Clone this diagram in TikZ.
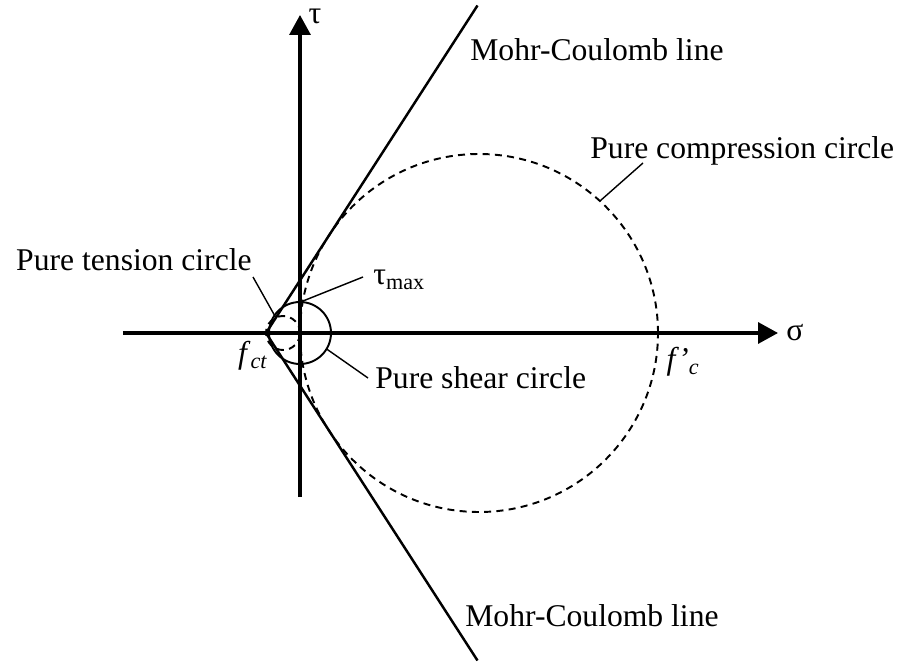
\documentclass[tikz,border=0pt]{standalone}
\usepackage{fontspec}
\setmainfont{Liberation Serif}
\usetikzlibrary{arrows.meta,calc}

\begin{document}
\begin{tikzpicture}[
  lbl/.style={font=\fontsize{18}{20}\selectfont, inner sep=0pt},
  axis/.style={line width=1.9pt, -{Triangle[length=0.4cm,width=0.42cm]}},
  mcline/.style={line width=1.4pt},
  circ/.style={line width=1.1pt},
  dcirc/.style={line width=1.1pt, dash pattern=on 4pt off 3pt},
  leader/.style={line width=0.8pt}]
  \useasboundingbox (-6,-6.56) rectangle (12.14,6.66);
  % Axes
  \coordinate (O) at (0,0);
  \coordinate (xl) at (-3.54,0);
  \coordinate (xr) at (9.56,0);
  \coordinate (yb) at (0,-3.28);
  \coordinate (yt) at (0,6.36);
  \draw[axis] (xl) -- (xr);
  \draw[axis] (yb) -- (yt);
  \node[lbl] (sig) at (9.9,0) {σ};
  \node[lbl] (tau) at (0.3,6.34) {τ};
  % Mohr circles
  \coordinate (cc) at (3.58,0);
  \coordinate (tc) at (-0.34,0);
  \draw[circ] (O) circle (0.62);
  \draw[dcirc] (tc) circle (0.34);
  \draw[dcirc] (cc) circle (3.58);
  % Mohr-Coulomb envelope
  \coordinate (fct) at (-0.68,0);
  \coordinate (mct) at (3.55,6.55);
  \coordinate (mcb) at (3.55,-6.55);
  \draw[mcline] (mct) -- (fct) -- (mcb);
  \node[lbl, anchor=west] (mctl) at (3.4,5.66) {Mohr-Coulomb line};
  \node[lbl, anchor=west] (mcbl) at (3.3,-5.66) {Mohr-Coulomb line};
  % Strength values
  \node[lbl] (fctl) at (-0.94,-0.46) {\textit{f}\textsubscript{\textit{ct}}};
  \node[lbl] (fcl) at (7.66,-0.58) {\textit{f'}\textsubscript{\textit{c}}};
  % Circle labels and leaders
  \node[lbl, anchor=west] (pcc) at (5.8,3.64) {Pure compression circle};
  \coordinate (pcs) at (6.86,3.4);
  \coordinate (pce) at ($(cc)+(47.5:3.58)$);
  \draw[leader] (pcs) -- (pce);
  \node[lbl, anchor=east] (ptc) at (-0.96,1.46) {Pure tension circle};
  \coordinate (pts) at (-0.94,1.12);
  \coordinate (pte) at ($(tc)+(115:0.34)$);
  \draw[leader] (pts) -- (pte);
  \node[lbl, anchor=west] (tmax) at (1.46,1.06) {τ\textsubscript{max}};
  \coordinate (tms) at (1.26,1.12);
  \coordinate (tme) at (0.06,0.64);
  \draw[leader] (tms) -- (tme);
  \node[lbl, anchor=west] (psc) at (1.5,-0.9) {Pure shear circle};
  \coordinate (pss) at (1.36,-0.9);
  \coordinate (pse) at ($(O)+(-31:0.62)$);
  \draw[leader] (pss) -- (pse);
\end{tikzpicture}
\end{document}
